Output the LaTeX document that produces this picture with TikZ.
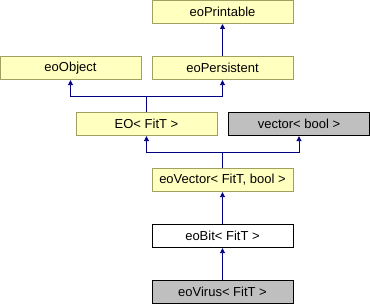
\documentclass[tikz,border=0pt]{standalone}
\usepackage{fontspec}
\setmainfont{Liberation Sans}
\usepackage{xcolor}
\definecolor{cream}{RGB}{255,255,192}
\definecolor{olive}{RGB}{160,160,96}
\definecolor{ash}{RGB}{191,191,191}
\definecolor{navyline}{RGB}{0,0,128}
\usepackage{tikz}
\usetikzlibrary{arrows.meta,positioning}
\tikzset{
  cls/.style={draw=olive, fill=cream, line width=0.9pt,
              minimum width=141pt, minimum height=23.5pt, inner sep=0pt,
              font=\fontsize{13}{15}\selectfont},
  plain/.style={cls, draw=black, fill=white},
  cur/.style={cls, draw=black, fill=ash},
  inh/.style={draw=navyline, line width=0.9pt,
              -{Triangle[length=5pt,width=5pt]}},
}

\begin{document}
\begin{tikzpicture}[x=1pt,y=-1pt]
\useasboundingbox (0,0) rectangle (370,304);
% classes
\node[cls] (printable) at (222.5,11.8) {eoPrintable};
\node[cls] (object) at (70.5,68) {eoObject};
\node[cls] (persistent) at (222.5,68) {eoPersistent};
\node[cls] (eo) at (146.5,124) {EO< FitT >};
\node[cur] (vecbool) at (299,124) {vector< bool >};
\node[cls] (eovector) at (222.5,180) {eoVector< FitT, bool >};
\node[plain] (eobit) at (222.5,236) {eoBit< FitT >};
\node[cur] (eovirus) at (222.5,292) {eoVirus< FitT >};
% inheritance
\coordinate (eojoin) at (146.5,96.5);
\coordinate (vecjoin) at (222.5,152.3);
\draw[inh] (persistent) -- (printable);
\draw[inh] (eo.north) -- (eojoin) -| (object.south);
\draw[inh] (eojoin) -| (persistent.south);
\draw[inh] (eovector.north) -- (vecjoin) -| (eo.south);
\draw[inh] (vecjoin) -| (vecbool.south);
\draw[inh] (eobit) -- (eovector);
\draw[inh] (eovirus) -- (eobit);
\end{tikzpicture}
\end{document}
